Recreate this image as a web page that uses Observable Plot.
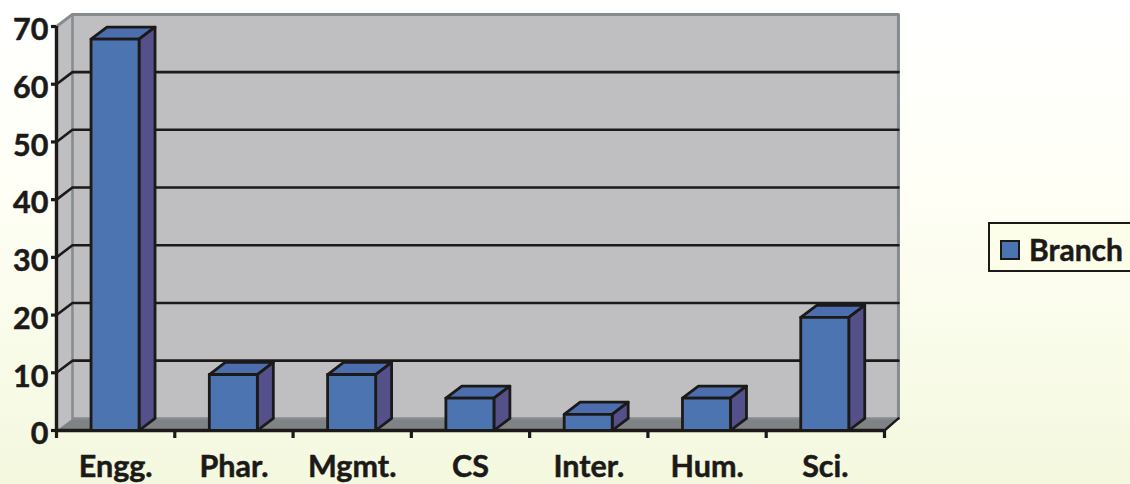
<!DOCTYPE html>
<html>
<head>
<meta charset="utf-8">
<script src="https://cdn.jsdelivr.net/npm/d3@7"></script>
<script src="https://cdn.jsdelivr.net/npm/@observablehq/plot@0.6"></script>
<style>
html,body{margin:0;padding:0;width:1130px;height:484px;overflow:hidden}
body{position:relative;background:linear-gradient(to bottom,#ffffff 0%,#fffff6 40%,#f4f8de 100%)}
svg{background:transparent!important;display:block}
svg text{stroke:#1c1a18;stroke-width:.5px;paint-order:stroke}
#legend{position:absolute;left:988px;top:222px;width:142px;height:50px;box-sizing:border-box;border:2.5px solid #1c1a18;border-right:none;background:#fdfee9;font:700 30px Lato,sans-serif;color:#1c1a18;-webkit-text-stroke:.5px #1c1a18}
#swatch{position:absolute;left:10px;top:16px;width:20px;height:20px;box-sizing:border-box;border:2.5px solid #1c1a18;background:#4c74b0}
#ltext{position:absolute;left:39px;top:8px;line-height:34px}
</style>
</head>
<body>
<div id="chart"></div>
<div id="legend"><div id="swatch"></div><div id="ltext">Branch</div></div>
<script>
const categories = ["Engg.", "Phar.", "Mgmt.", "CS", "Inter.", "Hum.", "Sci."];
const values = [67.8, 9.7, 9.7, 5.6, 2.8, 5.6, 19.6];
const seriesName = "Branch";
const yTicks = [0, 10, 20, 30, 40, 50, 60, 70];
const gridValues = [10, 20, 30, 40, 50, 60];

// 3D projection offset, in data units
const dx = 0.135, dxEnd = 0.118, dy = 2.1, half = 0.203;
const ink = "#1c1a18", wallEdge = "#868b90";

const poly = (pts, fill, stroke, strokeWidth) =>
  Plot.line(pts.map(([x, y]) => ({x, y})), {x: "x", y: "y", fill, stroke, strokeWidth, curve: "linear"});

const faces = (fn, fill) => {
  const rows = categories.flatMap((c, i) =>
    fn(i + 0.495, values[i]).map(([x, y]) => ({id: c, x, y})));
  return Plot.line(rows, {x: "x", y: "y", z: "id", fill, stroke: ink, strokeWidth: 2.8, curve: "linear"});
};

const tickPositions = d3.range(0, 8);
const labelPositions = categories.map((_, i) => i + 0.5);

const chart = Plot.plot({
  width: 1130, height: 484,
  marginLeft: 56, marginRight: 246, marginTop: 26, marginBottom: 54,
  x: {type: "linear", domain: [0, 7], axis: null, label: null},
  y: {type: "linear", domain: [0, 70], axis: null, label: null},
  style: {fontFamily: "Lato, sans-serif", fontWeight: 700, fontSize: "30.5px", color: ink, background: "transparent", overflow: "visible"},
  marks: [
    // back and side walls, floor
    poly([[dx,dy],[7+dxEnd,dy],[7+dxEnd,70+dy],[dx,70+dy],[dx,dy]], "#bfbfc1", "none", 0),
    poly([[0,0],[dx,dy],[dx,70+dy],[0,70],[0,0]], "#bfbfc1", "none", 0),
    poly([[0,0],[dx,dy],[7+dxEnd,dy],[7,0],[0,0]], "#7f8385", "none", 0),
    poly([[0,70],[dx,70+dy],[7+dxEnd,70+dy],[7+dxEnd,dy]], "none", wallEdge, 3),
    poly([[dx,70+dy],[dx,dy],[7+dxEnd,dy]], "none", wallEdge, 2.5),
    // grid
    Plot.line(gridValues.flatMap(v => [{v,x:0,y:v},{v,x:dx,y:v+dy},{v,x:7+dxEnd,y:v+dy}]),
      {x: "x", y: "y", z: "v", stroke: ink, strokeWidth: 2.6, curve: "linear"}),
    // axes
    Plot.axisY({ticks: yTicks, tickSize: 5, tickFormat: () => "", strokeWidth: 3.2, anchor: "left", label: null}),
    Plot.axisY({ticks: yTicks, tickSize: 0, tickPadding: 8, dy: 4, anchor: "left", label: null}),
    Plot.axisX({ticks: tickPositions, tickFormat: () => "", tickSize: 8, strokeWidth: 3.2, anchor: "bottom", label: null}),
    Plot.axisX({ticks: labelPositions, tickFormat: (d) => categories[Math.round(d - 0.5)], tickSize: 0, tickPadding: 25, anchor: "bottom", label: null}),
    Plot.ruleY([0], {stroke: ink, strokeWidth: 3.4}),
    Plot.ruleX([0], {stroke: ink, strokeWidth: 3.4}),
    poly([[7,0],[7+dxEnd,dy]], "none", ink, 2.4),
    // bars
    faces((c, v) => [[c-half,v],[c-half+dx,v+dy],[c+half+dx,v+dy],[c+half,v],[c-half,v]], "#4c6eae"),
    faces((c, v) => [[c+half,0],[c+half+dx,dy],[c+half+dx,v+dy],[c+half,v],[c+half,0]], "#54508a"),
    faces((c, v) => [[c-half,0],[c-half,v],[c+half,v],[c+half,0],[c-half,0]], "#4c74b0")
  ]
});
document.getElementById("chart").appendChild(chart);
document.getElementById("ltext").textContent = seriesName;
</script>
</body>
</html>
